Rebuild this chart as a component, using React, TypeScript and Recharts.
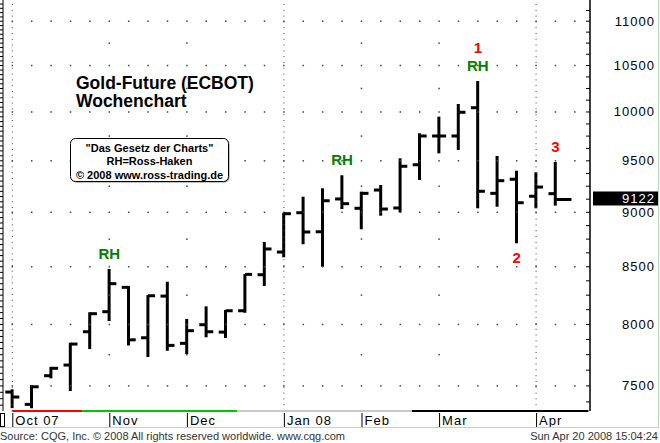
import React from 'react'
import { ComposedChart, Bar, Scatter, XAxis, YAxis, ReferenceLine, ReferenceDot } from 'recharts'

// weekly OHLC, Gold-Future (ECBOT), Oct 07 – Apr 08
const OPEN = [7452, 7356, 7581, 7666, 7939, 8108, 8318, 7889, 8242, 7843, 7998, 7936, 8116, 8429, 8632, 8996, 8818, 9127, 9038, 9213, 9041, 9461, 9751, 9751, 10045, 9181, 9318, 9153, 9178]
const HIGH = [7473, 7507, 7652, 7848, 8103, 8480, 8330, 8251, 8367, 8046, 8154, 8122, 8435, 8724, 8996, 9149, 9230, 9357, 9197, 9262, 9525, 9779, 9951, 10084, 10331, 9548, 9402, 9386, 9488]
const LOW = [7327, 7327, 7560, 7460, 7796, 8029, 7826, 7731, 7782, 7755, 7893, 7887, 8099, 8330, 8585, 8703, 8500, 9031, 8841, 8968, 9000, 9311, 9575, 9609, 9038, 9053, 8712, 9038, 9063]
const CLOSE = [7413, 7493, 7640, 7837, 8091, 8350, 7872, 8245, 7826, 7948, 7939, 8116, 8432, 8660, 8987, 8816, 9110, 9082, 9181, 9031, 9446, 9751, 9751, 9997, 9201, 9304, 9091, 9242, 9122]

const MONTH_IDX = [0, 5, 9, 14, 18, 22, 27]
const MONTH_LABELS = ['Oct 07', 'Nov', 'Dec', 'Jan 08', 'Feb', 'Mar', 'Apr']
const QUARTER_IDX = [0, 14, 27]
const PRICE_LABELS = [7500, 8000, 8500, 9000, 9500, 10000, 10500, 11000]
const MINOR_LEVELS = [7750, 8250, 8750, 9250, 9750, 10250, 10750]
const LAST = 9122

// trend strip under the bars
const TREND_BREAKS = [0, 3.6, 11.6, 20.6, 29.7]
const TREND_COLORS = ['#ff0000', '#00c800', '#c8c8c8', '#000000']

// markers: bar index, text, above/below
const MARK_IDX = [5, 17, 24, 24, 26, 28]
const MARK_TEXT = ['RH', 'RH', 'RH', '1', '2', '3']
const MARK_SIDE = ['high', 'high', 'high', 'high2', 'low', 'high']

const FONT = "Arial, 'Liberation Sans', sans-serif"
const Y_MIN = 7305
const Y_MAX = 11248
const X_MIN = -0.48
const X_MAX = 29.78
const LAST_I = OPEN.length - 1

const data = OPEN.map((o, i) => ({ i, open: o, high: HIGH[i], low: LOW[i], close: CLOSE[i], range: [LOW[i], HIGH[i]] }))

const slots = Array.from({ length: 30 }, (_, i) => i)
const gridDots = [
  ...PRICE_LABELS.flatMap(v => slots.map(i => ({ i, v }))),
  ...MINOR_LEVELS.flatMap(v => MONTH_IDX.filter(m => !QUARTER_IDX.includes(m)).map(i => ({ i, v }))),
]

const rightTicks: number[] = []
for (let v = 7375; v < Y_MAX; v += 125) rightTicks.push(v)
const leftTicks: number[] = []
for (let v = 7350; v < Y_MAX; v += 50) leftTicks.push(v)

const GridDot = (p: any) => <rect x={p.cx - 0.75} y={p.cy - 0.75} width={1.5} height={1.5} fill="#444" />
const OpenTick = (p: any) => <rect x={p.cx - 7} y={p.cy - 1.5} width={7} height={3} fill="#000" />
const CloseTick = (p: any) => (
  <rect x={p.cx} y={p.cy - 1.5} width={p.payload.i === LAST_I ? 16 : 7} height={3} fill="#000" />
)

const RightTick = ({ x, y, payload }: any) => {
  const v = payload.value
  return (
    <g>
      <line x1={x - 4} x2={x} y1={y} y2={y} stroke="#000" />
      {v % 500 === 0 && (
        <text x={x + 65} y={y} dy={4.5} textAnchor="end" fontSize={13} letterSpacing={1} fontFamily={FONT} fill="#000">{v}</text>
      )}
    </g>
  )
}

const LeftTick = ({ x, y }: any) => <line x1={x - 3} x2={x} y1={y} y2={y} stroke="#000" />

const MonthTick = ({ x, y, payload }: any) => {
  const label = MONTH_LABELS[MONTH_IDX.indexOf(payload.value)]
  return (
    <g>
      <line x1={x + 0.5} x2={x + 0.5} y1={y + 2} y2={y + 16} stroke="#000" />
      <text x={x + 3} y={y + 13.5} fontSize={13} letterSpacing={1} fontFamily={FONT} fill="#000" style={{ whiteSpace: 'pre' }}>{label}</text>
    </g>
  )
}

const LastLabel = ({ viewBox }: any) => {
  const xr = viewBox.x + viewBox.width
  const y = viewBox.y
  return (
    <g>
      <rect x={xr + 3} y={y - 8} width={66} height={14} fill="#000" />
      <text x={xr + 65} y={y} dy={4} textAnchor="end" fontSize={13} letterSpacing={1} fontFamily={FONT} fill="#fff">{LAST}</text>
    </g>
  )
}

const markShape = (text: string, side: string) => (p: any) => {
  const dy = side === 'low' ? 20 : side === 'high2' ? -27.5 : -10
  const red = text !== 'RH'
  return (
    <text x={p.cx} y={p.cy + dy} textAnchor="middle" fontSize={15} fontWeight="bold" fontFamily={FONT} fill={red ? '#ff0000' : '#008000'}>{text}</text>
  )
}

export default function App() {
  return (
    <div style={{ position: 'absolute', left: 0, top: 0, width: 660, height: 443, background: '#fff', fontFamily: FONT }}>
      <ComposedChart width={660} height={443} data={data} margin={{ top: 0, right: 0, bottom: 16, left: 0 }}>
        <XAxis dataKey="i" type="number" domain={[X_MIN, X_MAX]} allowDataOverflow ticks={MONTH_IDX} interval={0}
          tickLine={false} axisLine={false} tickSize={0} tickMargin={0} height={16} tick={<MonthTick />} />
        <YAxis yAxisId="l" orientation="left" scale="log" type="number" domain={[Y_MIN, Y_MAX]} allowDataOverflow
          ticks={leftTicks} interval={0} width={3} tickSize={0} tickMargin={0} tickLine={false}
          axisLine={{ stroke: '#000' }} tick={<LeftTick />} />
        <YAxis yAxisId="r" orientation="right" scale="log" type="number" domain={[Y_MIN, Y_MAX]} allowDataOverflow
          ticks={rightTicks} interval={0} width={70} tickSize={0} tickMargin={0} tickLine={false}
          axisLine={{ stroke: '#000', strokeWidth: 1.5 }} tick={<RightTick />} />

        <Scatter yAxisId="r" data={gridDots} dataKey="v" shape={GridDot} isAnimationActive={false} />
        {QUARTER_IDX.map(q => (
          <ReferenceLine key={q} yAxisId="r" x={q} stroke="#444" strokeDasharray="1 4.8" />
        ))}
        {TREND_COLORS.map((c, k) => (
          <ReferenceLine key={c} yAxisId="r" ifOverflow="visible" stroke={c} strokeWidth={2}
            segment={[{ x: TREND_BREAKS[k], y: Y_MIN }, { x: TREND_BREAKS[k + 1], y: Y_MIN }]} />
        ))}

        <Bar yAxisId="r" dataKey="range" barSize={3} fill="#000" isAnimationActive={false} />
        <Scatter yAxisId="r" dataKey="open" shape={OpenTick} isAnimationActive={false} />
        <Scatter yAxisId="r" dataKey="close" shape={CloseTick} isAnimationActive={false} />

        <ReferenceLine yAxisId="r" y={LAST} stroke="none" ifOverflow="visible" label={(p: any) => <LastLabel {...p} />} />
        {MARK_IDX.map((i, k) => (
          <ReferenceDot key={k} yAxisId="r" x={i} y={MARK_SIDE[k] === 'low' ? LOW[i] : HIGH[i]} r={0} ifOverflow="visible"
            shape={markShape(MARK_TEXT[k], MARK_SIDE[k])} />
        ))}
      </ComposedChart>

      <svg width={660} height={443} style={{ position: 'absolute', left: 0, top: 0, pointerEvents: 'none' }} fontFamily={FONT}>
        <text x={76} y={89} fontSize={17.5} fontWeight="bold" fill="#000">Gold-Future (ECBOT)</text>
        <text x={76} y={107} fontSize={17.5} fontWeight="bold" fill="#000">Wochenchart</text>

        <rect x={71.5} y={139.5} width={158} height={43} rx={5} fill="#888" />
        <rect x={70.5} y={138.5} width={158} height={43} rx={5} fill="#fff" stroke="#000" />
        <text x={149.5} y={151.5} fontSize={11} fontWeight="bold" textAnchor="middle" fill="#000">"Das Gesetz der Charts"</text>
        <text x={149.5} y={165} fontSize={11} fontWeight="bold" textAnchor="middle" fill="#000">RH=Ross-Haken</text>
        <text x={149.5} y={178.5} fontSize={11} fontWeight="bold" textAnchor="middle" fill="#000">© 2008 www.ross-trading.de</text>

        <rect x={0.5} y={413.5} width={4} height={13} fill="none" stroke="#000" />
        <line x1={658.5} x2={658.5} y1={0} y2={428} stroke="#b8dcb8" />
        <line x1={0} x2={659} y1={427.5} y2={427.5} stroke="#b8dcb8" />

        <text x={0} y={440} fontSize={11} fill="#333">Source: CQG, Inc. © 2008 All rights reserved worldwide. www.cqg.com</text>
        <text x={658} y={440} fontSize={11} fill="#333" textAnchor="end">Sun Apr 20 2008 15:04:24</text>
      </svg>
    </div>
  )
}
